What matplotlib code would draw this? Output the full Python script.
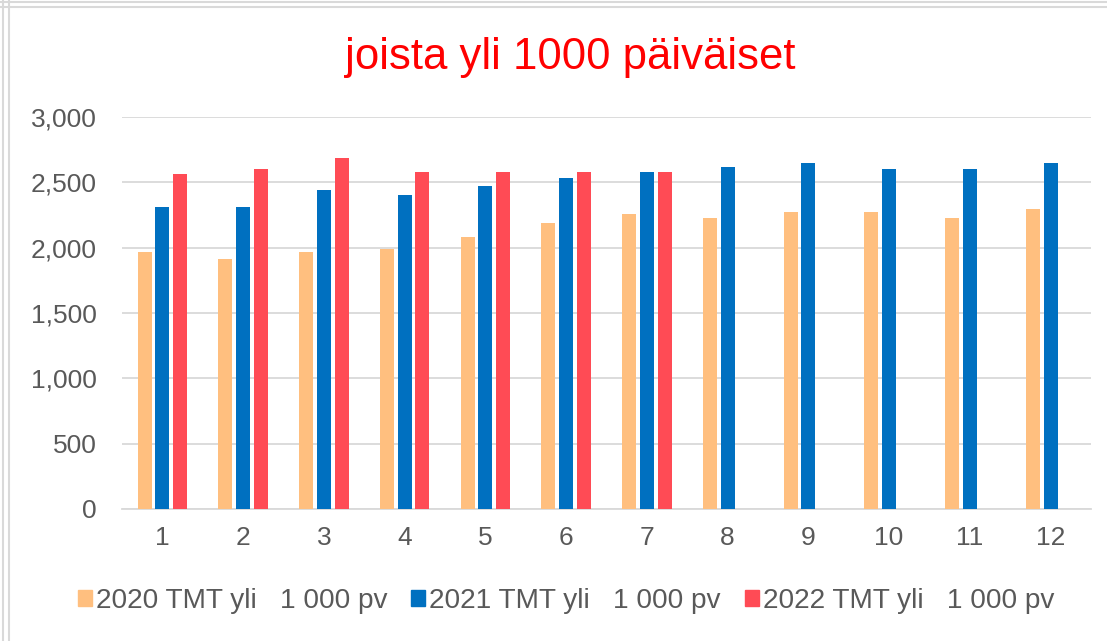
import matplotlib
matplotlib.use("Agg")
import matplotlib.pyplot as plt
import numpy as np
from matplotlib.patches import Rectangle
from matplotlib.lines import Line2D

categories = ["1", "2", "3", "4", "5", "6", "7", "8", "9", "10", "11", "12"]
s2020 = [1970, 1915, 1970, 1990, 2080, 2185, 2260, 2225, 2275, 2275, 2225, 2295]
s2021 = [2310, 2310, 2440, 2405, 2475, 2530, 2580, 2615, 2650, 2600, 2600, 2650]
s2022 = [2565, 2600, 2690, 2580, 2580, 2580, 2580, np.nan, np.nan, np.nan, np.nan, np.nan]
series_names = ["2020 TMT yli   1 000 pv", "2021 TMT yli   1 000 pv", "2022 TMT yli   1 000 pv"]
colors = ["#FFBF7F", "#0070C0", "#FF4B55"]
title = "joista yli 1000 päiväiset"
yticks = [0, 500, 1000, 1500, 2000, 2500, 3000]

plt.rcParams['font.family'] = ['Liberation Sans', 'DejaVu Sans']

W, H = 1107, 641
fig = plt.figure(figsize=(W/100, H/100), dpi=100)
ax = fig.add_axes([122/W, 1-509/H, (1091-122)/W, (509-117)/H])

x = np.arange(len(categories))
bw = 0.173
step = 0.22
for i, (vals, c, n) in enumerate(zip([s2020, s2021, s2022], colors, series_names)):
    ax.bar(x + (i-1)*step, vals, width=bw, color=c, label=n, zorder=3)

ax.set_xlim(-0.5, len(categories)-0.5)
ax.set_ylim(0, 3000)
ax.set_yticks(yticks)
ax.set_yticklabels([f"{v:,}" for v in yticks])
ax.set_xticks(x)
ax.set_xticklabels(categories)
ax.yaxis.grid(True, color="#D9D9D9", linewidth=1.3, zorder=0)
for s in ["top", "right", "left"]:
    ax.spines[s].set_visible(False)
ax.spines["bottom"].set_color("#D9D9D9")
ax.spines["bottom"].set_linewidth(1.3)
ax.tick_params(axis="both", length=0, labelsize=19, labelcolor="#595959")
ax.tick_params(axis="y", pad=18)
ax.tick_params(axis="x", pad=12)

fig.text(570/W, 1-57/H, title, ha="center", va="center", fontsize=31.5, color="#FF0000")

handles = [Rectangle((0, 0), 1, 1, color=c) for c in colors]
leg = fig.legend(handles, series_names, loc="center", bbox_to_anchor=(566/W, 1-601/H),
                 ncol=3, frameon=False, fontsize=20.2, labelcolor="#595959",
                 handlelength=0.5, handleheight=0.47, handletextpad=0.14, columnspacing=0.85)

# chart border lines (screenshot frame)
for xx in [3, 9]:
    fig.add_artist(Line2D([xx/W, xx/W], [0, 1], color="#D9D9D9", lw=1.5))
for yy in [1.5, 6.5]:
    fig.add_artist(Line2D([0, 1], [1-yy/H, 1-yy/H], color="#D9D9D9", lw=1.5))

fig.savefig("out.png", dpi=100)
